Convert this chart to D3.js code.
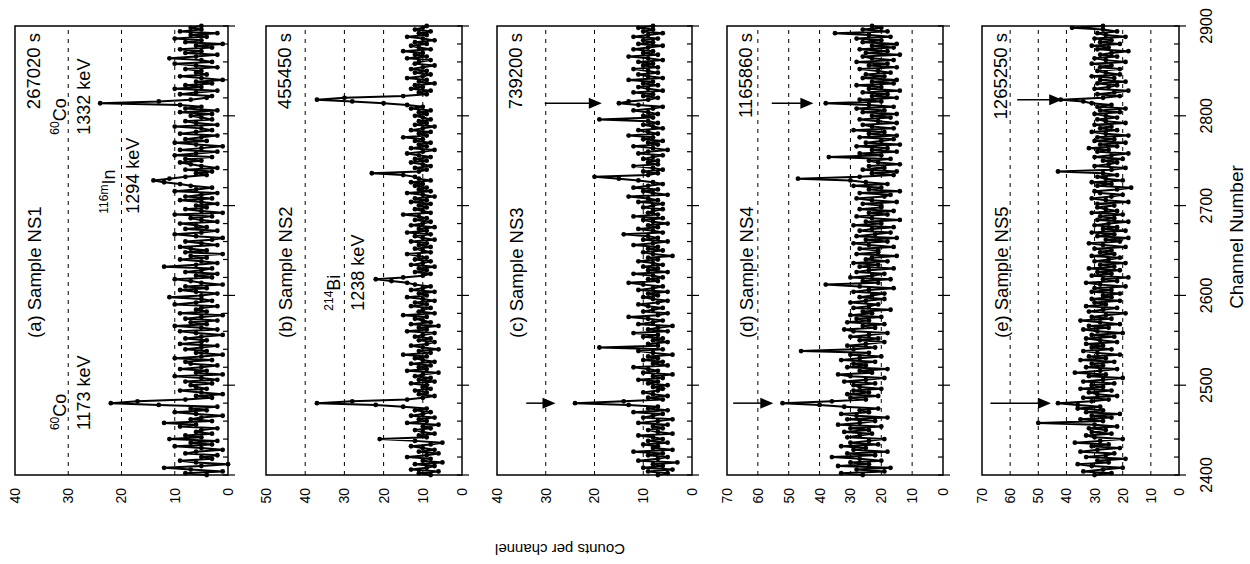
<!DOCTYPE html>
<html lang="en">
<head>
<meta charset="UTF-8">
<title>Spectra NS1 - NS5</title>
<script src="https://d3js.org/d3.v7.min.js"></script>
<style>
    body {margin:0; background:#fff}
    svg {display:block}
    text {font-family:"Liberation Sans", Arial, sans-serif; fill:#000}
</style>
</head>
<body>
<svg id="chart" width="1250" height="564"></svg>
<script>
// channel of first value, values are every 2nd channel
var channelStart = 2400, channelStep = 2;
var channelTicks = [2400, 2500, 2600, 2700, 2800, 2900];
var panelNames = ["(a) Sample NS1", "(b) Sample NS2", "(c) Sample NS3", "(d) Sample NS4", "(e) Sample NS5"];
var liveTimes = ["267020 s", "455450 s", "739200 s", "1165860 s", "1265250 s"];
var countMax = [40, 50, 40, 70, 70];

var countsNS1 = [
    4,8,1,7,12,5,0,6,9,3,5,2,8,6,1,5,10,3,7,2,11,5,8,3,6,
    5,2,9,6,12,3,7,5,1,6,10,4,7,2,13,22,17,8,3,6,1,5,9,4,6,
    7,3,8,2,5,10,1,6,4,9,5,2,7,8,3,10,5,1,6,4,8,5,2,9,5,
    4,8,5,1,6,9,2,5,10,4,7,2,8,5,1,9,4,6,5,2,10,6,3,5,11,
    5,2,6,9,4,8,1,5,7,10,3,6,2,8,5,3,12,6,2,5,9,4,7,1,8,
    4,7,9,2,5,8,3,1,6,10,5,2,8,4,6,9,2,5,7,3,10,1,5,8,4,
    6,2,5,9,3,8,5,2,10,6,3,7,9,12,14,11,8,4,6,3,8,2,5,7,9,
    5,8,3,10,6,2,9,5,1,6,10,4,8,5,2,9,6,3,5,10,2,6,8,3,5,
    7,3,9,2,8,5,9,24,13,7,4,3,9,6,2,10,5,8,3,6,1,5,9,4,6,
    5,8,2,6,10,3,5,11,6,2,8,5,9,3,6,1,8,5,10,4,7,2,9,5,7,
    5];
var countsNS2 = [
    8,11,6,13,9,7,12,5,10,8,14,9,6,11,7,10,13,8,5,12,21,9,11,7,10,
    12,8,10,6,14,9,11,7,13,10,8,12,9,15,22,37,28,14,10,7,11,9,12,8,10,
    9,13,7,11,8,12,10,6,14,9,11,8,13,7,10,12,9,15,8,11,6,10,13,9,7,
    11,8,12,10,7,14,9,11,6,13,8,10,12,9,15,7,11,10,8,13,9,12,7,10,14,
    9,11,7,13,10,8,12,14,18,22,15,10,8,12,9,11,7,13,10,8,12,9,11,14,8,
    10,12,8,11,9,13,7,10,12,8,14,9,11,7,13,10,8,12,9,11,15,8,10,12,9,
    11,8,13,9,12,7,10,14,8,11,9,12,10,13,8,11,12,15,23,11,9,12,8,10,13,
    9,12,8,11,14,10,7,13,9,11,8,12,10,15,9,11,8,13,10,7,12,9,11,8,10,
    12,9,11,8,13,10,14,20,28,37,30,15,9,11,8,13,10,12,7,11,9,14,10,8,12,
    9,13,10,7,12,11,8,14,9,12,10,15,8,11,13,9,12,7,10,14,9,11,8,12,10,
    9];
var countsNS3 = [
    7,5,9,4,10,6,8,3,11,7,5,9,6,12,4,8,7,10,5,9,6,8,11,4,7,
    9,6,8,5,11,7,4,10,8,6,12,5,9,7,13,24,14,6,9,5,8,10,7,6,8,
    5,9,7,11,6,8,4,10,7,9,12,5,8,6,10,7,9,4,8,11,6,19,7,9,5,
    8,6,10,7,12,5,9,7,4,11,8,6,9,13,7,5,10,8,6,9,11,7,5,8,10,
    7,9,5,11,8,6,10,13,7,9,6,8,12,5,9,7,10,6,8,11,7,9,4,8,10,
    6,9,7,12,8,5,10,7,9,14,6,8,11,7,9,5,8,10,6,12,7,9,8,6,10,
    8,6,11,7,9,13,5,8,10,7,12,9,6,8,11,15,20,9,7,10,6,8,12,7,9,
    7,10,8,6,11,9,5,8,12,7,9,6,10,8,13,7,9,11,6,8,10,7,9,19,8,
    10,7,9,12,8,6,11,15,13,9,7,10,8,12,6,9,11,7,10,8,13,6,9,11,7,
    9,12,7,10,8,11,6,9,13,7,10,8,12,9,6,11,8,10,7,12,9,6,10,8,11,
    8];
var countsNS4 = [
    26,33,19,28,17,34,24,30,20,27,36,22,31,18,29,25,33,21,30,24,19,31,27,23,32,
    24,30,20,34,27,22,31,18,28,33,24,27,21,32,40,52,36,25,30,21,31,24,29,20,27,
    29,22,32,25,19,30,34,23,27,18,31,25,29,22,33,27,20,30,24,46,29,22,31,25,19,
    27,21,30,24,18,29,32,22,26,19,31,24,28,20,30,23,26,17,29,24,21,30,25,19,27,
    23,19,29,24,16,27,38,21,26,17,30,23,19,28,24,16,27,21,29,18,25,23,15,28,21,
    21,27,16,24,29,18,25,15,28,22,17,27,23,16,29,20,25,14,23,28,18,24,16,27,20,
    20,26,15,23,28,19,17,27,14,24,20,29,18,25,30,47,27,16,23,15,26,19,24,14,21,
    24,17,37,20,27,15,23,18,28,14,25,20,16,27,15,24,19,29,16,23,26,15,21,27,17,
    23,15,26,19,28,16,24,38,20,27,15,23,18,26,14,24,20,28,16,23,15,26,19,25,17,
    21,27,15,24,18,28,16,23,26,14,25,18,27,16,23,15,26,20,28,17,24,35,18,26,20,
    23];
var countsNS5 = [
    30,24,34,27,20,31,36,25,29,19,33,26,23,35,29,21,31,25,37,28,20,30,33,24,31,
    26,32,22,30,50,27,35,24,31,21,33,27,36,28,36,43,31,25,34,22,29,32,24,35,27,
    31,23,34,27,20,32,26,37,28,22,33,27,31,23,35,26,32,21,29,34,24,31,27,33,22,
    28,33,23,31,20,29,34,25,32,21,28,35,24,31,26,19,32,27,22,33,26,30,21,31,24,
    27,21,31,24,30,19,28,33,22,27,18,31,24,29,21,32,23,28,19,30,25,21,31,23,28,
    24,30,19,27,32,21,26,18,29,23,31,19,27,22,30,25,18,29,23,28,20,31,22,26,29,
    23,29,18,26,31,24,20,28,30,22,17,29,24,31,20,26,29,22,27,43,24,19,30,25,22,
    27,20,30,24,18,29,25,32,22,28,19,30,23,29,18,26,31,22,28,24,30,19,26,29,22,
    26,30,21,28,19,29,24,31,34,42,27,21,29,23,18,30,25,22,29,19,28,23,31,21,26,
    29,21,28,24,31,19,26,30,22,28,24,18,29,25,31,21,28,24,30,19,26,29,22,27,38,
    27];
var allCounts = [countsNS1, countsNS2, countsNS3, countsNS4, countsNS5];

// peak labels: panel index, channel where the text starts, count of first line, lines [superscript, text]
var peakLabels = [
    {panel: 0, channel: 2450, count: 30.5, lines: [["60", "Co"], ["", "1173 keV"]]},
    {panel: 0, channel: 2779, count: 30.5, lines: [["60", "Co"], ["", "1332 keV"]]},
    {panel: 0, channel: 2691, count: 21.2, lines: [["116m", "In"], ["", "1294 keV"]]},
    {panel: 1, channel: 2583, count: 31, lines: [["214", "Bi"], ["", "1238 keV"]]}
];
// arrows: panel, channel, from count, to count
var arrows = [
    {panel: 2, channel: 2814, from: 30.2, to: 18.5},
    {panel: 2, channel: 2480, from: 34, to: 28},
    {panel: 3, channel: 2814, from: 55.5, to: 42},
    {panel: 3, channel: 2480, from: 68, to: 55},
    {panel: 4, channel: 2818, from: 57.5, to: 41.5},
    {panel: 4, channel: 2480, from: 67, to: 45.5}
];

// the figure is drawn upright (channel across, counts up) and then turned
// a quarter turn anticlockwise, like the scanned page
var W = 564, H = 1250;
var panelBox = [[15, 228], [266, 462], [497, 692], [727, 943], [982, 1179]]; // top, bottom (count max / zero)

var svg = d3.select("#chart");
var g = svg.append("g").attr("transform", "translate(0," + W + ") rotate(-90)");

var x = d3.scaleLinear().domain([2400, 2900]).range([89, 538]);
var minorTicks = d3.range(2400, 2901, 20);

allCounts.forEach(function(counts, p){
    var top = panelBox[p][0], bottom = panelBox[p][1];
    var y = d3.scaleLinear().domain([0, countMax[p]]).range([bottom, top]);
    var pg = g.append("g");
    var gridVals = d3.range(10, countMax[p], 10);

    // dashed grid
    pg.selectAll("line.grid").data(gridVals).enter().append("line")
        .attr("x1", x(2400)).attr("x2", x(2900))
        .attr("y1", function(d){ return y(d); }).attr("y2", function(d){ return y(d); })
        .attr("stroke", "#000").attr("stroke-width", 1).attr("stroke-dasharray", "4,5");

    // count labels
    var ax = pg.append("g").attr("transform", "translate(" + x(2400) + ",0)")
        .call(d3.axisLeft(y).tickValues(d3.range(0, countMax[p] + 1, 10)).tickSize(0).tickPadding(13));
    ax.select(".domain").remove();
    ax.selectAll("text").attr("font-size", 14).attr("font-family", "Liberation Sans, Arial, sans-serif");

    // spectrum
    var pts = counts.map(function(c, i){ return [channelStart + i * channelStep, c]; });
    pg.append("path").datum(pts)
        .attr("fill", "none").attr("stroke", "#000").attr("stroke-width", 2)
        .attr("d", d3.line().x(function(d){ return x(d[0]); }).y(function(d){ return y(d[1]); }));
    pg.selectAll("circle").data(pts).enter().append("circle")
        .attr("cx", function(d){ return x(d[0]); })
        .attr("cy", function(d){ return y(d[1]); })
        .attr("r", 2.4).attr("fill", "#000");

    // frame
    pg.append("rect").attr("x", x(2400)).attr("y", top)
        .attr("width", x(2900) - x(2400)).attr("height", bottom - top)
        .attr("fill", "none").attr("stroke", "#000").attr("stroke-width", 1.5);

    // channel ticks on the zero line
    pg.selectAll("line.tick").data(minorTicks).enter().append("line")
        .attr("x1", function(d){ return x(d); }).attr("x2", function(d){ return x(d); })
        .attr("y1", function(d){ return d % 100 === 0 ? bottom + 7 : bottom; })
        .attr("y2", bottom - 5)
        .attr("stroke", "#000").attr("stroke-width", 1.2);

    // panel texts
    pg.append("text").attr("x", 226).attr("y", top + 26)
        .attr("font-size", 18.5).text(panelNames[p]);
    pg.append("text").attr("x", 531).attr("y", top + 25)
        .attr("font-size", 18.5).attr("text-anchor", "end").text(liveTimes[p]);

    peakLabels.filter(function(d){ return d.panel === p; }).forEach(function(d){
        d.lines.forEach(function(line, k){
            var t = pg.append("text").attr("x", x(d.channel)).attr("y", y(d.count) + k * 24)
                .attr("font-size", 18);
            if (line[0]) {
                t.append("tspan").attr("font-size", 12).attr("dy", -7).text(line[0]);
                t.append("tspan").attr("dy", 7).text(line[1]);
            } else {
                t.text(line[1]);
            }
        });
    });

    arrows.filter(function(d){ return d.panel === p; }).forEach(function(d){
        var ax0 = x(d.channel), y0 = y(d.from), y1 = y(d.to);
        pg.append("line").attr("x1", ax0).attr("x2", ax0).attr("y1", y0).attr("y2", y1 - 12)
            .attr("stroke", "#000").attr("stroke-width", 1.5);
        pg.append("path")
            .attr("d", "M" + (ax0 - 5.5) + "," + (y1 - 13) + "L" + (ax0 + 5.5) + "," + (y1 - 13) + "L" + ax0 + "," + y1 + "Z")
            .attr("fill", "#000");
    });
});

// channel labels under the last panel
g.selectAll("text.chan").data(channelTicks).enter().append("text")
    .attr("x", function(d){ return x(d); }).attr("y", 1212)
    .attr("text-anchor", "middle").attr("font-size", 16).text(function(d){ return d; });
g.append("text").attr("x", x(2665)).attr("y", 1243)
    .attr("text-anchor", "middle").attr("font-size", 19).text("Channel Number");
g.append("text").attr("transform", "translate(20,560) rotate(-90)")
    .attr("text-anchor", "middle").attr("font-size", 15).text("Counts per channel");
</script>
</body>
</html>
